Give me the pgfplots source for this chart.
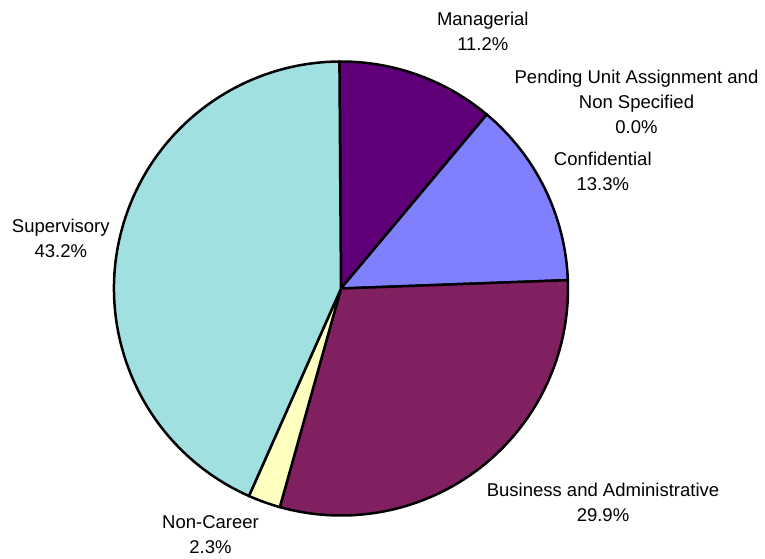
\documentclass[border=0pt]{standalone}
\usepackage{pgfplots}
\pgfplotsset{compat=1.18}
\usepackage{pgfplotstable}
\usepackage{fontspec}
\setmainfont{Liberation Sans}
\definecolor{cman}{RGB}{96,0,120}
\definecolor{cpend}{HTML}{FF8080}
\definecolor{cconf}{HTML}{8080FF}
\definecolor{cbus}{HTML}{802060}
\definecolor{cnon}{HTML}{FFFFC0}
\definecolor{csup}{HTML}{A0E0E0}
\pgfplotstableread[col sep=comma]{
name,value,color
Managerial,11.2,cman
Pending,0.0,cpend
Confidential,13.3,cconf
Business,29.9,cbus
NonCareer,2.3,cnon
Supervisory,43.2,csup
}\piedata
\begin{document}
\begin{tikzpicture}[every node/.append style={font=\fontsize{9.25}{12.5}\selectfont, inner sep=0pt}]
\begin{axis}[scale only axis, width=382.5pt, height=279pt,
  xmin=0, xmax=765, ymin=0, ymax=558, hide axis, clip=false]
\path (axis cs:0,0) rectangle (axis cs:765,558);
\pgfmathsetmacro\degper{360/99.9}
\def\cum{0}
\pgfplotsforeachungrouped \i in {0,...,5}{%
  \pgfplotstablegetelem{\i}{value}\of\piedata \let\sliceval\pgfplotsretval
  \pgfplotstablegetelem{\i}{color}\of\piedata \let\slicecol\pgfplotsretval
  \pgfmathsetmacro\sa{90.4-\degper*\cum}%
  \pgfmathsetmacro\cum{\cum+\sliceval}%
  \pgfmathsetmacro\ea{90.4-\degper*\cum}%
  \pgfmathsetmacro\px{341+227*cos(\sa)}%
  \pgfmathsetmacro\py{269.5+227*sin(\sa)}%
  \ifdim\sliceval pt>0pt
    \edef\tmp{\noexpand\draw[fill=\slicecol, line width=1.25pt, line join=round]
      (axis cs:341,269.5) -- (axis cs:\px,\py)
      arc[start angle=\sa, end angle=\ea, radius=113.5pt] -- cycle;}%
    \tmp
  \fi
}
\node[align=center] at (axis cs:482.8,527) {Managerial\\11.2\%};
\node[align=center] at (axis cs:636.5,456.5) {Pending Unit Assignment and\\Non Specified\\0.0\%};
\node[align=center] at (axis cs:602.8,386.5) {Confidential\\13.3\%};
\node[align=center] at (axis cs:60.8,319.5) {Supervisory\\43.2\%};
\node[align=center] at (axis cs:210.5,23) {Non-Career\\2.3\%};
\node[align=center] at (axis cs:603,55.5) {Business and Administrative\\29.9\%};
\end{axis}
\end{tikzpicture}
\end{document}
